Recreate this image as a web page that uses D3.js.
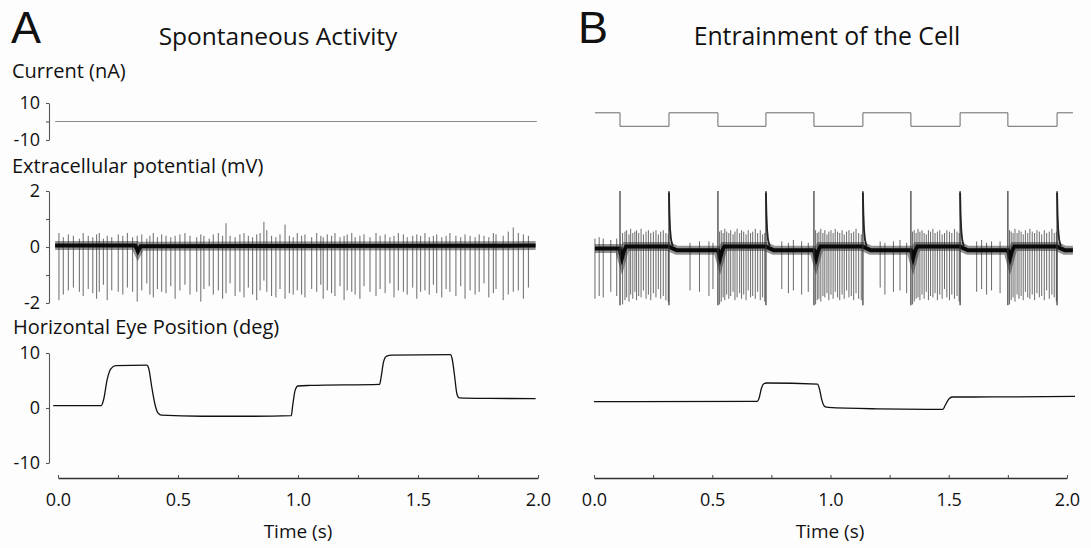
<!DOCTYPE html>
<html><head><meta charset="utf-8">
<script src="https://cdn.jsdelivr.net/npm/d3@7"></script>
<style>
body{margin:0;background:#fdfdfd;}
svg{display:block;font-family:"Open Sans",Lato,sans-serif;}
</style>
</head><body><svg id="c" width="1091" height="548"></svg>
<script>
// ---------------- DATA ----------------
const timeTicks = [0, 0.25, 0.5, 0.75, 1, 1.25, 1.5, 1.75, 2];
const timeLabels = [0, 0.5, 1, 1.5, 2];
const currentTicks = [-10, 0, 10];
const currentLabels = [-10, 10];
const extTicks = [-2, -1, 0, 1, 2];
const extLabels = [-2, 0, 2];
const eyeTicks = [-10, 0, 10];
const eyeLabels = [-10, 0, 10];

// Panel A: current (flat at 0 nA)
const currentA = [[-0.012, 0], [1.995, 0]];

// Panel A: extracellular spikes (s), trough and peak amplitude (mV)
const spikeTimesA = [0.004,0.022,0.043,0.064,0.089,0.105,0.126,0.145,0.161,0.172,0.189,0.205,0.224,0.251,0.270,0.289,0.311,0.330,0.349,0.370,0.383,0.397,0.414,0.432,0.450,0.470,0.488,0.508,0.529,0.550,0.578,0.595,0.608,0.630,0.647,0.668,0.686,0.700,0.717,0.738,0.758,0.775,0.793,0.811,0.828,0.842,0.858,0.870,0.890,0.908,0.925,0.946,0.964,0.980,0.997,
1.015,1.029,1.057,1.078,1.095,1.105,1.122,1.140,1.154,1.175,1.192,1.205,1.224,1.238,1.258,1.275,1.300,1.325,1.342,1.363,1.383,1.400,1.418,1.439,1.455,1.478,1.495,1.511,1.529,1.547,1.564,1.578,1.599,1.617,1.633,1.658,1.678,1.696,1.717,1.738,1.755,1.775,1.795,1.814,1.825,1.855,1.876,1.897,1.918,1.939,1.960];
const spikeTroughsA = [-1.9,-1.7,-1.55,-1.45,-1.6,-1.75,-1.5,-1.65,-1.85,-1.6,-1.35,-1.9,-1.55,-1.6,-1.7,-1.45,-1.6,-1.95,-1.55,-1.3,-1.7,-1.8,-1.5,-1.6,-1.65,-1.4,-1.85,-1.55,-1.35,-1.7,-1.6,-1.95,-1.5,-1.4,-1.7,-1.55,-1.85,-1.65,-1.3,-1.75,-1.6,-1.8,-1.45,-1.7,-1.9,-1.55,-1.2,-1.6,-1.75,-1.8,-1.5,-1.85,-1.65,-1.7,-1.55,
-1.7,-1.8,-1.5,-1.6,-1.35,-1.85,-1.55,-1.65,-1.75,-1.4,-1.9,-1.55,-1.6,-1.7,-1.85,-1.4,-1.6,-1.75,-1.5,-1.65,-1.3,-1.8,-1.55,-1.6,-1.7,-1.45,-1.85,-1.6,-1.55,-1.7,-1.35,-1.65,-1.8,-1.5,-1.6,-1.75,-1.4,-1.85,-1.55,-1.7,-1.6,-1.3,-1.8,-1.65,-1.5,-1.9,-1.7,-1.6,-1.55,-1.85,-1.45];
const spikePeaksA = [0.5,0.35,0.45,0.4,0.3,0.5,0.4,0.35,0.45,0.5,0.3,0.4,0.35,0.45,0.4,0.5,0.35,0.4,0.45,0.3,0.4,0.5,0.35,0.45,0.4,0.35,0.4,0.45,0.5,0.4,0.35,0.45,0.4,0.3,0.45,0.5,0.4,0.85,0.4,0.35,0.45,0.5,0.4,0.35,0.45,0.5,0.9,0.6,0.4,0.35,0.45,0.8,0.4,0.35,0.5,
0.4,0.45,0.35,0.5,0.4,0.35,0.45,0.4,0.5,0.35,0.4,0.45,0.5,0.35,0.4,0.45,0.35,0.5,0.4,0.45,0.35,0.4,0.5,0.45,0.35,0.4,0.45,0.4,0.5,0.35,0.4,0.45,0.35,0.4,0.5,0.4,0.35,0.45,0.4,0.35,0.45,0.4,0.35,0.5,0.45,0.4,0.55,0.7,0.5,0.45,0.4];
// Panel A: baseline of the extracellular trace [s, mV]
const baselineA = [[-0.012,0.05],[0.322,0.05],[0.333,-0.15],[0.344,0.03],[1.99,0.05]];

// Panel A: eye position knots [s, deg]
const eyeA = [[-0.02,0.45],[0.18,0.45],[0.19,1.5],[0.205,5.2],[0.22,7.1],[0.24,7.7],[0.37,7.8],[0.378,7.2],[0.39,4],[0.405,0.5],[0.415,-0.8],[0.43,-1.3],[0.6,-1.5],[0.8,-1.5],[0.972,-1.4],[0.978,0.5],[0.988,3.2],[1.0,4.0],[1.05,4.1],[1.34,4.3],[1.346,5.5],[1.356,8.3],[1.368,9.4],[1.39,9.6],[1.635,9.7],[1.642,9],[1.652,6],[1.662,2.6],[1.672,1.85],[1.8,1.75],[1.99,1.7]];

// Panel B: square-wave current (nA): switch times and levels
const switchTimesB = [0.004,0.11,0.317,0.524,0.727,0.93,1.137,1.34,1.548,1.75,1.958,2.025];
const currentLevelsB = [4.7,-2.6,4.7,-2.6,4.7,-2.6,4.7,-2.6,4.7,-2.6,4.7,4.7];

// Panel B: stimulus artifacts (s) with peak / trough (mV)
const artifactTimesB = [0.11,0.317,0.524,0.727,0.93,1.137,1.34,1.548,1.75,1.958];
const artifactPeakB = 2.0, artifactTroughB = -2.08;
// Panel B: decaying tail after each low->high switch [dt s, mV]
const tailTimesB = [0.317,0.727,1.137,1.548,1.958];
const tailShapeB = [[0,1.95],[0.002,1.2],[0.005,0.6],[0.009,0.25],[0.016,0.03]];

// Panel B: baseline of extracellular trace [s, mV]
const baselineB = [[0.004,-0.05],[0.109,-0.05],[0.113,-0.25],[0.118,-0.4],[0.126,-0.15],[0.136,0.02],[0.317,0.02],[0.335,-0.06],[0.35,-0.12],[0.524,-0.12],
[0.528,-0.25],[0.533,-0.4],[0.541,-0.15],[0.551,0.02],[0.727,0.02],[0.745,-0.06],[0.76,-0.12],[0.93,-0.12],
[0.934,-0.25],[0.939,-0.4],[0.947,-0.15],[0.957,0.02],[1.137,0.02],[1.155,-0.06],[1.17,-0.12],[1.34,-0.12],
[1.344,-0.25],[1.349,-0.4],[1.357,-0.15],[1.367,0.02],[1.548,0.02],[1.566,-0.06],[1.581,-0.12],[1.75,-0.12],
[1.754,-0.25],[1.759,-0.4],[1.767,-0.15],[1.777,0.02],[1.958,0.02],[1.976,-0.06],[1.991,-0.12],[2.025,-0.12]];

// Panel B: sparse spikes (during positive current)
const sparseTimesB = [0.004,0.022,0.039,0.071,0.096, 0.406,0.446,0.486,0.503, 0.794,0.822,0.843,0.878,0.906, 1.210,1.230,1.266,1.294,1.322, 1.618,1.639,1.660,1.681,1.717];
const sparseTroughsB = [-1.85,-1.75,-1.8,-1.6,-1.75, -1.55,-1.6,-1.75,-1.5, -1.5,-1.65,-1.55,-1.7,-1.6, -1.45,-1.7,-1.6,-1.55,-1.65, -1.6,-1.5,-1.7,-1.55,-1.65];
const sparsePeaksB = [0.3,0.35,0.3,0.25,0.3, 0.15,0.2,0.2,0.15, 0.2,0.15,0.25,0.2,0.15, 0.2,0.15,0.2,0.25,0.15, 0.2,0.25,0.15,0.2,0.2];

// Panel B: dense spikes (during negative current)
const denseTimesB = [0.121,0.131,0.138,0.148,0.155,0.164,0.173,0.180,0.189,0.199,0.209,0.220,0.230,0.240,0.251,0.262,0.272,0.282,0.293,0.304,0.314,
0.531,0.538,0.546,0.553,0.561,0.570,0.578,0.588,0.596,0.605,0.616,0.624,0.633,0.643,0.652,0.662,0.671,0.682,0.692,0.703,0.713,0.722,
0.937,0.944,0.951,0.959,0.968,0.976,0.985,0.993,1.002,1.011,1.020,1.030,1.039,1.049,1.058,1.068,1.078,1.088,1.098,1.108,1.119,1.130,
1.347,1.354,1.362,1.370,1.378,1.387,1.396,1.405,1.414,1.423,1.433,1.442,1.452,1.462,1.472,1.482,1.492,1.503,1.513,1.524,1.535,1.544,
1.757,1.764,1.772,1.780,1.789,1.797,1.806,1.815,1.824,1.834,1.843,1.853,1.863,1.873,1.883,1.893,1.904,1.914,1.925,1.936,1.946,1.955];
const denseTroughsB = [-2.05,-1.9,-1.8,-1.95,-1.7,-1.85,-1.6,-1.9,-1.75,-1.8,-1.55,-1.85,-1.7,-1.9,-1.65,-1.8,-1.5,-1.85,-1.75,-1.9,-1.95,
-2.05,-1.95,-1.8,-1.9,-1.7,-1.85,-1.75,-1.6,-1.9,-1.8,-1.65,-1.85,-1.7,-1.9,-1.55,-1.8,-1.75,-1.85,-1.6,-1.9,-1.8,-1.95,
-2.05,-1.9,-1.85,-1.95,-1.75,-1.8,-1.65,-1.9,-1.7,-1.85,-1.6,-1.8,-1.9,-1.7,-1.85,-1.55,-1.8,-1.75,-1.9,-1.65,-1.85,-1.9,
-2.05,-1.95,-1.85,-1.8,-1.9,-1.7,-1.85,-1.6,-1.9,-1.75,-1.8,-1.65,-1.9,-1.7,-1.85,-1.5,-1.8,-1.9,-1.7,-1.85,-1.75,-1.95,
-2.05,-1.9,-1.8,-1.95,-1.7,-1.85,-1.75,-1.9,-1.6,-1.8,-1.85,-1.7,-1.9,-1.65,-1.8,-1.75,-1.9,-1.55,-1.85,-1.7,-1.8,-1.95];
const densePeaksB = [0.5,0.55,0.6,0.45,0.65,0.5,0.55,0.6,0.5,0.65,0.45,0.55,0.6,0.5,0.55,0.6,0.45,0.55,0.6,0.5,0.45,
0.55,0.6,0.5,0.65,0.55,0.5,0.6,0.45,0.55,0.65,0.5,0.6,0.55,0.45,0.6,0.5,0.55,0.65,0.5,0.6,0.45,0.5,
0.6,0.5,0.55,0.65,0.5,0.6,0.45,0.55,0.6,0.5,0.65,0.55,0.5,0.6,0.45,0.55,0.6,0.5,0.55,0.65,0.5,0.45,
0.55,0.6,0.5,0.65,0.55,0.6,0.5,0.45,0.6,0.55,0.65,0.5,0.55,0.6,0.45,0.5,0.6,0.55,0.5,0.65,0.55,0.5,
0.6,0.55,0.5,0.65,0.5,0.6,0.55,0.45,0.6,0.5,0.65,0.55,0.5,0.6,0.55,0.45,0.6,0.5,0.55,0.65,0.5,0.55];

// Panel B: eye position knots [s, deg]
const eyeB = [[0.0,1.15],[0.69,1.2],[0.698,1.8],[0.708,3.6],[0.718,4.4],[0.73,4.55],[0.945,4.35],[0.953,3.5],[0.965,1.2],[0.975,0.3],[0.99,0.1],[1.2,-0.15],[1.475,-0.25],[1.485,0.5],[1.5,1.6],[1.515,2.0],[1.6,2.0],[2.034,2.1]];

// ---------------- DRAWING ----------------
const svg = d3.select("#c");
const FONT = '"Open Sans", Lato, sans-serif';
const INK = "#111";

const xA = d3.scaleLinear([0, 2], [58, 538]);
const xB = d3.scaleLinear([0, 2], [594, 1067]);
const yCur = d3.scaleLinear([-10, 10], [140, 103]);
const yExt = d3.scaleLinear([-2, 2], [303, 191]);
const yEye = d3.scaleLinear([-10, 10], [463, 353]);

function text(x, y, s, size, anchor, family) {
  svg.append("text").attr("x", x).attr("y", y).attr("font-size", size)
    .attr("fill", INK).attr("text-anchor", anchor || "start").attr("font-family", family || FONT).text(s);
}
text(11, 43, "A", 45, "start", '"Liberation Sans", Arial, sans-serif');
text(278, 45, "Spontaneous Activity", 24.5, "middle");
text(578, 43, "B", 45, "start", '"Liberation Sans", Arial, sans-serif');
text(827, 45, "Entrainment of the Cell", 24.8, "middle");
text(12, 78, "Current (nA)", 20);
text(12, 173, "Extracellular potential (mV)", 20);
text(13, 334, "Horizontal Eye Position (deg)", 20);
text(298, 538, "Time (s)", 19, "middle");
text(830, 538, "Time (s)", 19, "middle");

function styleAxis(g) {
  g.attr("font-family", FONT).attr("font-size", 18);
  g.selectAll(".domain").attr("stroke", "#555").attr("stroke-width", 1.1);
  g.selectAll(".tick line").attr("stroke", "#555").attr("stroke-width", 1.1);
  g.selectAll(".tick text").attr("fill", INK);
}
function leftAxis(scale, ticks, labels) {
  const g = svg.append("g").attr("transform", "translate(49,0)")
    .call(d3.axisLeft(scale).tickValues(ticks).tickSize(3).tickSizeOuter(0).tickPadding(6)
      .tickFormat(d => labels.includes(d) ? String(d) : ""));
  styleAxis(g);
}
leftAxis(yCur, currentTicks, currentLabels);
leftAxis(yExt, extTicks, extLabels);
leftAxis(yEye, eyeTicks, eyeLabels);

function timeAxis(x) {
  const g = svg.append("g").attr("transform", "translate(0,478)")
    .call(d3.axisBottom(x).tickValues(timeTicks).tickSize(-3).tickSizeOuter(0).tickPadding(15)
      .tickFormat(d => timeLabels.includes(d) ? d3.format(".1f")(d) : ""));
  styleAxis(g);
  g.selectAll(".domain").attr("stroke", "#333").attr("stroke-width", 1.4);
}
timeAxis(xA);
timeAxis(xB);

const lineGen = (x, y, curve) => d3.line().x(d => x(d[0])).y(d => y(d[1])).curve(curve || d3.curveLinear);

// ---- Panel A current
svg.append("path").datum(currentA).attr("d", lineGen(xA, yCur))
  .attr("fill", "none").attr("stroke", "#8a8a8a").attr("stroke-width", 1);

// ---- Panel B current (square wave)
const curB = switchTimesB.map((t, i) => [t, currentLevelsB[i]]);
svg.append("path").datum(curB).attr("d", lineGen(xB, yCur, d3.curveStepAfter))
  .attr("fill", "none").attr("stroke", "#6a6a6a").attr("stroke-width", 1);

// ---- Extracellular helpers
function spikes(x, times, troughs, peaks, color) {
  const data = times.map((t, i) => ({t, lo: troughs[i], hi: peaks[i]}));
  svg.append("g").selectAll("line").data(data).join("line")
    .attr("x1", d => x(d.t)).attr("x2", d => x(d.t))
    .attr("y1", d => yExt(d.hi)).attr("y2", d => yExt(d.lo))
    .attr("stroke", color || "#6a6a6a").attr("stroke-width", 1);
}
function band(x, knots) {
  svg.append("path").datum(knots).attr("d", lineGen(x, yExt))
    .attr("fill", "none").attr("stroke", "#2a2a2a").attr("stroke-width", 9).attr("stroke-opacity", 0.5);
  svg.append("path").datum(knots).attr("d", lineGen(x, yExt))
    .attr("fill", "none").attr("stroke", "#0a0a0a").attr("stroke-width", 4);
}

// Panel A extracellular
spikes(xA, spikeTimesA, spikeTroughsA, spikePeaksA);
band(xA, baselineA);

// Panel B extracellular
spikes(xB, sparseTimesB, sparseTroughsB, sparsePeaksB);
spikes(xB, denseTimesB, denseTroughsB, densePeaksB);
band(xB, baselineB);
svg.append("g").selectAll("line").data(artifactTimesB).join("line")
  .attr("x1", d => xB(d)).attr("x2", d => xB(d))
  .attr("y1", yExt(artifactPeakB)).attr("y2", yExt(artifactTroughB))
  .attr("stroke", "#333").attr("stroke-width", 1.2);
tailTimesB.forEach(T => {
  svg.append("path").datum(tailShapeB.map(p => [T + p[0], p[1]]))
    .attr("d", lineGen(xB, yExt)).attr("fill", "none").attr("stroke", "#222").attr("stroke-width", 1.8);
});

// ---- Eye traces
svg.append("path").datum(eyeA).attr("d", lineGen(xA, yEye, d3.curveMonotoneX))
  .attr("fill", "none").attr("stroke", "#111").attr("stroke-width", 1.3);
svg.append("path").datum(eyeB).attr("d", lineGen(xB, yEye, d3.curveMonotoneX))
  .attr("fill", "none").attr("stroke", "#111").attr("stroke-width", 1.3);
</script></body></html>
